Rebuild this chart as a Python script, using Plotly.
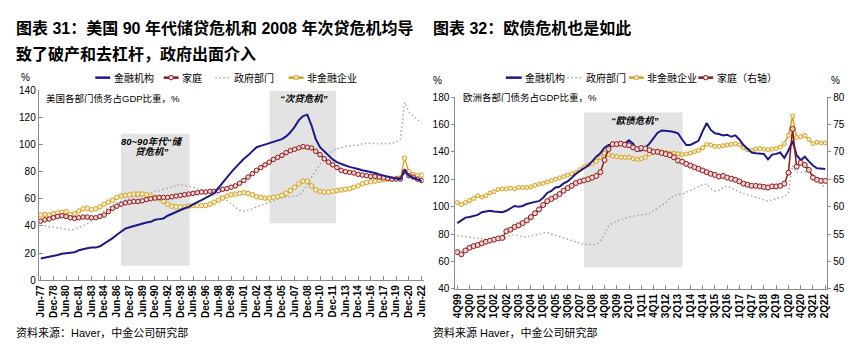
import plotly.graph_objects as go

# ---------------- DATA ----------------
us_ticks = ["Jun-77", "Dec-78", "Jun-80", "Dec-81", "Jun-83", "Dec-84", "Jun-86", "Dec-87",
            "Jun-89", "Dec-90", "Jun-92", "Dec-93", "Jun-95", "Dec-96", "Jun-98", "Dec-99",
            "Jun-01", "Dec-02", "Jun-04", "Dec-05", "Jun-07", "Dec-08", "Jun-10", "Dec-11",
            "Jun-13", "Dec-14", "Jun-16", "Dec-17", "Jun-19", "Dec-20", "Jun-22"]

# US debt / GDP (%), semi-annual from Jun-77 to Jun-22
us_fin = [16, 16.5, 17, 17.5, 18.5, 19.5, 20, 20.5, 20.5, 22,
          23, 23.5, 24, 24, 25, 27, 28.5, 31, 33.5, 36,
          38, 39, 40, 41, 42, 42.5, 43, 44.5, 45, 45.5,
          47.5, 49, 50, 51.5, 53, 54, 56, 57.5, 59, 60.5,
          62, 64, 68, 72, 76, 79.5, 83, 86.5, 89.5, 92,
          95, 98, 99, 100, 101, 102, 103, 104, 106, 109,
          113, 118, 121, 122, 114, 104, 98, 95, 92, 89,
          87, 85.5, 84.5, 83.5, 83, 82, 81, 80.5, 80, 79,
          78, 77, 76, 75.5, 75, 74.5, 81, 77, 75.5, 74,
          73]
us_hh = [43.5, 44.5, 45, 46, 47, 47.5, 47, 46, 45.5, 46,
         46.5, 46.5, 46, 46, 47, 48, 50.5, 53, 54.5, 56,
         57, 57.5, 58, 58, 58.5, 59.5, 60, 60.5, 61, 61,
         61, 61.5, 62, 62.5, 63, 63.5, 64, 64.5, 65, 65,
         65.5, 65.5, 66, 67, 67.5, 68.5, 69.5, 71.5, 73.5, 76,
         78.5, 81, 83, 85, 87, 89, 90.5, 92, 94, 95.5,
         96.5, 97.5, 98.5, 98, 97.5, 95, 92.5, 89.5, 87, 85,
         83, 81, 80, 79.5, 79, 78, 77.5, 77, 76.5, 76.5,
         76, 75.5, 75, 74.5, 74.5, 74.5, 80, 77, 76, 74.5,
         73.5]
us_gov = [40.5, 40, 39.5, 39, 38.5, 38, 37.5, 37, 37.5, 39,
          40.5, 41.5, 44, 46, 48, 51, 53.5, 55, 57, 58,
          59, 59.5, 60.5, 61.5, 62.5, 63.5, 64.5, 65.5, 66, 67,
          68, 69, 70, 70.5, 70, 69.5, 68.5, 67.5, 66.5, 66,
          65, 64, 63, 61, 58.5, 56, 53.5, 51.5, 51, 51.5,
          52.5, 54, 55, 56, 57, 58.5, 60, 61, 61.5, 61.5,
          62, 62.5, 66, 70, 76, 81, 86, 90, 93, 95.5,
          97, 98, 98.5, 99, 99, 99.5, 100.5, 101, 101, 100.5,
          100.5, 100, 100.5, 101, 102, 104, 131, 124, 121, 118,
          117]
us_nfc = [48, 48.5, 48, 49, 49.5, 50, 50.5, 48.5, 49, 51,
          52.5, 53, 52, 52.5, 54, 56, 57.5, 59, 61, 62,
          62.5, 63, 63.5, 63.5, 63.5, 63, 62, 61, 60, 58,
          56, 54.5, 54, 54, 54, 54.5, 55, 55, 55, 55,
          56, 57.5, 59, 60.5, 62, 63, 63.5, 64, 64.5, 64,
          63, 61.5, 61, 60.5, 60.5, 61, 61.5, 62.5, 64, 66,
          68.5, 71, 73, 73, 69.5, 66.5, 65.5, 65, 65, 65.5,
          66, 66.5, 67, 67.5, 68.5, 69.5, 71, 72, 72.5, 73,
          73.5, 74, 74.5, 74.5, 75, 75.5, 90, 80, 78, 77,
          77.5]

eu_ticks = ["4Q99", "3Q00", "2Q01", "1Q02", "4Q02", "3Q03", "2Q04", "1Q05", "4Q05", "3Q06",
            "2Q07", "1Q08", "4Q08", "3Q09", "2Q10", "1Q11", "4Q11", "3Q12", "2Q13", "1Q14",
            "4Q14", "3Q15", "2Q16", "1Q17", "4Q17", "3Q18", "2Q19", "1Q20", "4Q20", "3Q21", "2Q22"]

# Euro area debt / GDP (%), quarterly from 4Q99 to 2Q22
eu_fin = [88, 90, 92, 92.5, 93, 94, 96, 96.5, 97, 96.5,
          96.5, 96, 97, 99, 100.5, 100, 100.5, 102, 103, 103.5,
          104, 106.5, 110, 111.5, 114, 114.5, 117, 118.5, 121, 124,
          126, 128, 130, 133, 136.5, 139, 143, 145, 145, 145,
          145, 146, 148.5, 146, 141, 141, 143, 146, 150, 154,
          155.5, 155.5, 155, 154.5, 153.5, 149, 145, 145, 146.5, 148,
          155, 161, 156, 153.5, 153, 152, 152.5, 151, 152, 149,
          145, 142, 139.5, 139, 139, 138.5, 134.5, 138, 138.5, 139.5,
          135.5, 141, 148, 137.5, 134, 136.5, 133, 130, 128, 127.5,
          127.5]
eu_gov = [79, 78.5, 78, 77.5, 77.5, 77, 76.5, 76, 76, 76,
          76, 76.5, 77.5, 79, 79.5, 78.5, 78, 78, 78.5, 79,
          80, 81, 81, 80, 79, 78, 77, 76, 75, 74,
          73, 72.5, 72.5, 72, 72.5, 75, 80, 86, 88, 89.5,
          90.5, 91.5, 92.5, 93, 93.5, 94, 94.5, 95, 97, 99,
          100.5, 103, 106, 108, 109, 109, 110.5, 112, 113.5, 114.5,
          116, 116.5, 113, 111.5, 112, 114, 115, 113.5, 112, 110.5,
          109.5, 108.5, 108, 107, 106, 105, 104, 105, 106, 107,
          107.5, 110, 130, 125, 125, 125, 125.5, 123.5, 120, 116,
          114]
eu_nfc = [103, 101.5, 103, 104.5, 106, 108, 107, 108, 110, 111,
          112.5, 113, 113, 113.5, 113, 114, 114, 114, 114.5, 115.5,
          116.5, 117, 118, 119, 120, 121, 122, 123, 124, 125,
          127, 129, 130.5, 131.5, 133, 136, 139, 138, 137, 136.5,
          136, 136, 136, 135, 134.5, 135, 136, 138.5, 140.5, 140,
          140, 139.5, 139, 139, 138.5, 138, 138.5, 139, 140, 141,
          143, 145.5, 145, 144, 144, 144.5, 145, 145.5, 146, 145,
          143, 141.5, 141, 142, 142.5, 142, 141.5, 142, 142.5, 143.5,
          146, 152, 166, 150.5, 151, 152, 149, 146, 147, 146.5,
          146.5]
eu_hh = [51.7, 51.3, 52, 52.5, 52.8, 53, 53.3, 53.6, 53.8, 54,
         54.2, 54.3, 55.5, 55.8, 56.3, 56.6, 57, 57.5, 58.1, 58.8,
         59.5, 60.3, 61, 61.4, 61.8, 62.3, 62.9, 63.4, 63.8, 64.3,
         64.6, 64.8, 65, 65.3, 65.6, 66.3, 68.5, 70.5, 71.4, 71.4,
         71.5, 71.3, 71.2, 70.8, 70.5, 70.7, 70.6, 70.3, 70, 70,
         69.8, 69.6, 69.4, 69, 68.4, 68.2, 67.8, 67.5, 67.2, 66.9,
         66.6, 66.3, 66, 65.8, 65.5, 65.6, 65.3, 65.1, 64.9, 64.6,
         64.2, 64, 63.8, 63.8, 63.7, 63.6, 63.5, 63.7, 63.7, 63.8,
         64.2, 66.2, 74.2, 67.3, 68, 67.6, 66.7, 65.3, 64.9, 64.7,
         64.7]

# ---------------- STYLE ----------------
W, H = 861, 353
FONT = "Liberation Sans, Noto Sans CJK SC, sans-serif"
NAVY = "#1c1a8a"
RED = "#8b1a1a"
GOLD = "#d6a21e"
GRAY = "#a8a8a8"
AX = "#8c8c8c"
SHADE = "#e3e3e3"
DOT = "1.5px,2.5px"


def px(x):
    return x / W


def py(y):
    return 1 - y / H


us_x = list(range(len(us_fin)))
eu_x = list(range(len(eu_fin)))

fig = go.Figure()

# --- US panel ---
fig.add_trace(go.Scatter(x=us_x, y=us_gov, mode="lines", line=dict(color=GRAY, width=1.5, dash=DOT),
                         xaxis="x", yaxis="y", name="政府部门"))
fig.add_trace(go.Scatter(x=us_x, y=us_nfc, mode="lines+markers", line=dict(color=GOLD, width=1.3),
                         marker=dict(symbol="circle", size=4.5, color="#f7ecd0", line=dict(color=GOLD, width=1)),
                         xaxis="x", yaxis="y", name="非金融企业"))
fig.add_trace(go.Scatter(x=us_x, y=us_hh, mode="lines+markers", line=dict(color=RED, width=1.3),
                         marker=dict(symbol="circle", size=4.5, color="#ecd2d2", line=dict(color=RED, width=1)),
                         xaxis="x", yaxis="y", name="家庭"))
fig.add_trace(go.Scatter(x=us_x, y=us_fin, mode="lines", line=dict(color=NAVY, width=2),
                         xaxis="x", yaxis="y", name="金融机构"))

# --- Euro panel ---
fig.add_trace(go.Scatter(x=eu_x, y=eu_gov, mode="lines", line=dict(color=GRAY, width=1.5, dash=DOT),
                         xaxis="x2", yaxis="y2", name="政府部门"))
fig.add_trace(go.Scatter(x=eu_x, y=eu_nfc, mode="lines+markers", line=dict(color=GOLD, width=1.5),
                         marker=dict(symbol="circle", size=4, color="#f7ecd0", line=dict(color=GOLD, width=1)),
                         xaxis="x2", yaxis="y2", name="非金融企业"))
fig.add_trace(go.Scatter(x=eu_x, y=eu_fin, mode="lines", line=dict(color=NAVY, width=2),
                         xaxis="x2", yaxis="y2", name="金融机构"))
fig.add_trace(go.Scatter(x=eu_x, y=eu_hh, mode="lines+markers", line=dict(color=RED, width=1.5),
                         marker=dict(symbol="circle", size=5, color="#ecd2d2", line=dict(color=RED, width=1)),
                         xaxis="x2", yaxis="y3", name="家庭（右轴）"))

axis_common = dict(showline=True, linecolor=AX, linewidth=1, tickcolor=AX, showgrid=False, zeroline=False)

fig.update_layout(
    width=W, height=H, margin=dict(l=0, r=0, t=0, b=0),
    paper_bgcolor="white", plot_bgcolor="white", showlegend=False,
    font=dict(family=FONT, color="#000000"),
    xaxis=dict(domain=[px(35), px(423)], range=[-0.47, 90.47], anchor="y",
               tickmode="array", tickvals=list(range(0, len(us_fin), 3)), ticktext=us_ticks,
               tickangle=-90, tickfont=dict(size=10, weight="bold"), ticks="inside", ticklen=4,
               **axis_common),
    yaxis=dict(domain=[py(284), py(88)], range=[0, 140], dtick=20, anchor="x",
               tickfont=dict(size=10), ticks="inside", ticklen=4, **axis_common),
    xaxis2=dict(domain=[px(455), px(830)], range=[-0.485, 90.49], anchor="y2",
                tickmode="array", tickvals=list(range(0, len(eu_fin), 3)), ticktext=eu_ticks,
                tickangle=-90, tickfont=dict(size=10, weight="bold"), ticks="inside", ticklen=4,
                **axis_common),
    yaxis2=dict(domain=[py(293), py(95)], range=[40, 180], dtick=20, anchor="x2",
                tickfont=dict(size=10), ticks="outside", ticklen=3, **axis_common),
    yaxis3=dict(range=[45, 80], dtick=5, anchor="x2", overlaying="y2", side="right",
                tickfont=dict(size=10), ticks="outside", ticklen=3, **axis_common),
)

shapes = [
    dict(type="rect", xref="x", yref="y", x0=19, x1=35.2, y0=10.7, y1=108,
         fillcolor=SHADE, line=dict(width=0), layer="below"),
    dict(type="rect", xref="x", yref="y", x0=54.1, x1=69.8, y0=42, y1=139.5,
         fillcolor=SHADE, line=dict(width=0), layer="below"),
    dict(type="rect", xref="x2", yref="y2", x0=31, x1=55.1, y0=55.6, y1=168.7,
         fillcolor=SHADE, line=dict(width=0), layer="below"),
]

annotations = []


def text(x, y, s, size=10, anchor="left", color="#000000"):
    annotations.append(dict(x=px(x), y=py(y), xref="paper", yref="paper", text=s, showarrow=False,
                            xanchor=anchor, yanchor="middle", font=dict(size=size, family=FONT, color=color)))


def legend_item(x0, x1, y, color, label, dash="solid", marker=False, width=2.5):
    shapes.append(dict(type="line", xref="paper", yref="paper", x0=px(x0), x1=px(x1), y0=py(y), y1=py(y),
                       line=dict(color=color, width=width, dash=dash)))
    if marker:
        cx = (x0 + x1) / 2
        shapes.append(dict(type="circle", xref="paper", yref="paper", x0=px(cx - 2.3), x1=px(cx + 2.3),
                           y0=py(y + 2.3), y1=py(y - 2.3), fillcolor="#f0e0e0", line=dict(color=color, width=1)))
    text(x1 + 1.5, y, label, size=10)


# Titles
text(10, 24, "<b>图表 31：美国 90 年代储贷危机和 2008 年次贷危机均导</b>", size=16)
text(10, 51, "<b>致了破产和去杠杆，政府出面介入</b>", size=16)
text(431, 24, "<b>图表 32：欧债危机也是如此</b>", size=16)

# Units
text(22, 75, "%", size=10, anchor="center")
text(437, 78, "%", size=10, anchor="center")
text(838, 78, "%", size=10, anchor="center")

# Subtitles inside plots
text(40, 96, "美国各部门债务占GDP比重，%", size=9.5)
text(461, 95, "欧洲各部门债务占GDP比重，%", size=9.5)

# Shade labels
text(149, 141, "<b><i>80~90年代“储</i></b>", size=9.5, anchor="center")
text(149, 151, "<b><i>贷危机”</i></b>", size=9.5, anchor="center")
text(302, 97, "<b><i>“次贷危机”</i></b>", size=9.5, anchor="center")
text(636, 119, "<b><i>“欧债危机”</i></b>", size=9.5, anchor="center")

# Legends
legend_item(92, 107, 75, NAVY, "金融机构")
legend_item(161, 176, 75, RED, "家庭", marker=True)
legend_item(213, 228, 75, GRAY, "政府部门", dash=DOT, width=1.5)
legend_item(287, 302, 75, GOLD, "非金融企业", marker=True)

legend_item(506, 522, 75, NAVY, "金融机构")
legend_item(568, 583, 75, GRAY, "政府部门", dash=DOT, width=1.5)
legend_item(630, 645, 75, GOLD, "非金融企业", marker=True)
legend_item(700, 715, 75, RED, "家庭（右轴）", marker=True)

# Sources
text(10, 338, "资料来源：Haver，中金公司研究部", size=11)
text(431, 338, "资料来源 Haver，中金公司研究部", size=11)

fig.update_layout(shapes=shapes, annotations=annotations)
fig.write_html("out.html")
